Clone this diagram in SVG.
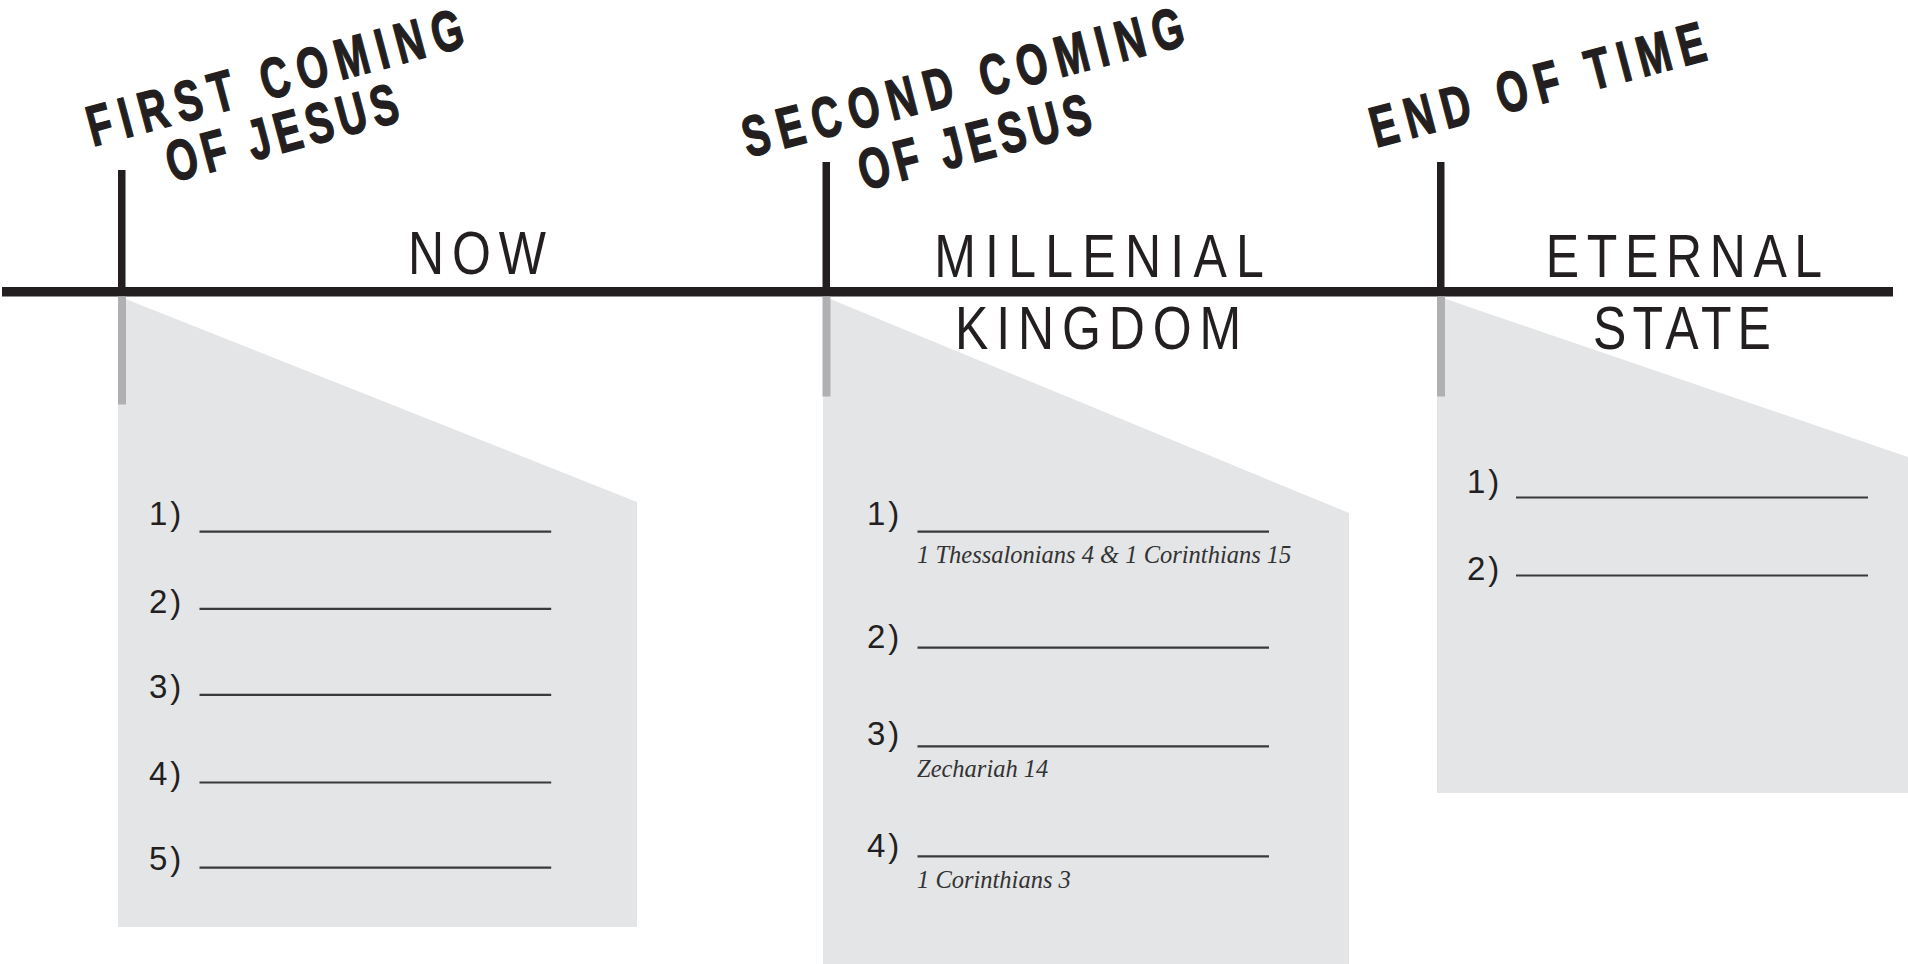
<svg xmlns="http://www.w3.org/2000/svg" width="1908" height="964" viewBox="0 0 1908 964">
<style>
.panel{fill:#e4e5e7}
.bar{fill:#b0b0b2}
.ink{fill:#231f20}
.head{font-family:"Liberation Sans",Arial,sans-serif;font-weight:bold;font-size:57px;fill:#231f20;stroke:#231f20;stroke-width:1.5}
.era{font-family:"Liberation Sans",Arial,sans-serif;font-size:61px;fill:#231f20;text-anchor:middle}
.num{font-family:"Liberation Sans",Arial,sans-serif;font-size:33px;fill:#231f20;letter-spacing:3px}
.ref{font-family:"Liberation Serif","Times New Roman",serif;font-style:italic;font-size:24.5px;fill:#333}
.blank{stroke:#3a3a3c;stroke-width:2.2}
</style>
<rect width="1908" height="964" fill="#fff"/>
<g id="panels">
<polygon class="panel" points="118,296 637,502 637,927 118,927"/>
<polygon class="panel" points="823,296 1349,513 1349,964 823,964"/>
<polygon class="panel" points="1437,296 1908,457 1908,793 1437,793"/>
</g>
<g id="connectors">
<rect class="ink" x="2" y="287" width="1891" height="9.5"/>
<rect class="ink" x="118" y="170" width="7.5" height="120"/>
<rect class="ink" x="822.5" y="162" width="7.5" height="128"/>
<rect class="ink" x="1437" y="162" width="7.5" height="128"/>
<rect class="bar" x="118" y="296.5" width="8" height="108"/>
<rect class="bar" x="822.5" y="296.5" width="8" height="100"/>
<rect class="bar" x="1437" y="296.5" width="8" height="100"/>
</g>
<g id="first-coming">
<text class="head" transform="translate(93,146.5) rotate(-15) scale(0.7,1)" textLength="553" lengthAdjust="spacing">FIRST COMING</text>
<text class="head" transform="translate(172,182.5) rotate(-15) scale(0.7,1)" textLength="340" lengthAdjust="spacing">OF JESUS</text>
</g>
<g id="second-coming">
<text class="head" transform="translate(748,157.5) rotate(-14.4) scale(0.7,1)" textLength="648" lengthAdjust="spacing">SECOND COMING</text>
<text class="head" transform="translate(864,190.5) rotate(-14.4) scale(0.7,1)" textLength="340" lengthAdjust="spacing">OF JESUS</text>
</g>
<g id="end-of-time">
<text class="head" transform="translate(1376,147.5) rotate(-14.8) scale(0.7,1)" textLength="492" lengthAdjust="spacing">END OF TIME</text>
</g>
<g id="now">
<text class="era" transform="translate(477,274) scale(0.82,1)" textLength="168" lengthAdjust="spacing">NOW</text>
<g class="blank">
<line x1="199.5" y1="531.7" x2="551.2" y2="531.7"/>
<line x1="199.5" y1="608.8" x2="551.2" y2="608.8"/>
<line x1="199.5" y1="694.8" x2="551.2" y2="694.8"/>
<line x1="199.5" y1="782.5" x2="551.2" y2="782.5"/>
<line x1="199.5" y1="867.7" x2="551.2" y2="867.7"/>
</g>
<text class="num" x="149" y="525">1)</text>
<text class="num" x="149" y="613.3">2)</text>
<text class="num" x="149" y="698">3)</text>
<text class="num" x="149" y="785">4)</text>
<text class="num" x="149" y="870">5)</text>
</g>
<g id="millenial-kingdom">
<text class="era" transform="translate(1099,277) scale(0.82,1)" textLength="402" lengthAdjust="spacing">MILLENIAL</text>
<text class="era" transform="translate(1098,349) scale(0.82,1)" textLength="349" lengthAdjust="spacing">KINGDOM</text>
<g class="blank">
<line x1="917.5" y1="531.7" x2="1269" y2="531.7"/>
<line x1="917.5" y1="647.7" x2="1269" y2="647.7"/>
<line x1="917.5" y1="746.3" x2="1269" y2="746.3"/>
<line x1="917.5" y1="856.3" x2="1269" y2="856.3"/>
</g>
<text class="num" x="867" y="525">1)</text>
<text class="num" x="867" y="648.3">2)</text>
<text class="num" x="867" y="745">3)</text>
<text class="num" x="867" y="856.7">4)</text>
<text class="ref" x="917" y="562.5">1 Thessalonians 4 &amp; 1 Corinthians 15</text>
<text class="ref" x="917" y="776.5">Zechariah 14</text>
<text class="ref" x="917" y="887.5">1 Corinthians 3</text>
</g>
<g id="eternal-state">
<text class="era" transform="translate(1684,277) scale(0.82,1)" textLength="337" lengthAdjust="spacing">ETERNAL</text>
<text class="era" transform="translate(1682,349) scale(0.82,1)" textLength="217" lengthAdjust="spacing">STATE</text>
<g class="blank">
<line x1="1516" y1="497.5" x2="1868" y2="497.5"/>
<line x1="1516" y1="575.5" x2="1868" y2="575.5"/>
</g>
<text class="num" x="1467" y="492.8">1)</text>
<text class="num" x="1467" y="579.8">2)</text>
</g>
</svg>
